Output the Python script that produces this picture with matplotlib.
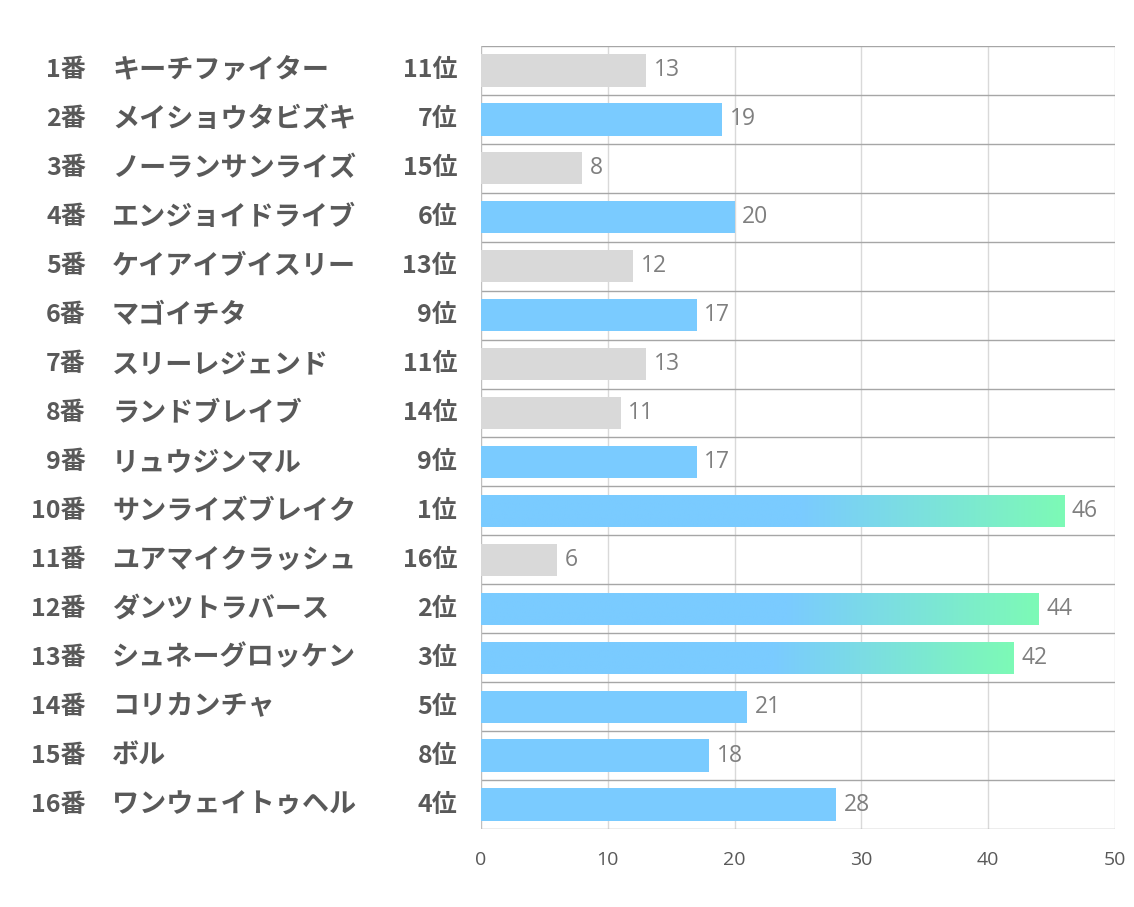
import numpy as np
import matplotlib
matplotlib.use('Agg')
import matplotlib.pyplot as plt
from matplotlib.colors import LinearSegmentedColormap
from matplotlib.transforms import blended_transform_factory

plt.rcParams['font.family'] = ['Noto Sans CJK JP', 'DejaVu Sans']

# data
numbers = ['1番', '2番', '3番', '4番', '5番', '6番', '7番', '8番',
           '9番', '10番', '11番', '12番', '13番', '14番', '15番', '16番']
names = ['キーチファイター', 'メイショウタビズキ', 'ノーランサンライズ', 'エンジョイドライブ',
         'ケイアイブイスリー', 'マゴイチタ', 'スリーレジェンド', 'ランドブレイブ',
         'リュウジンマル', 'サンライズブレイク', 'ユアマイクラッシュ', 'ダンツトラバース',
         'シュネーグロッケン', 'コリカンチャ', 'ボル', 'ワンウェイトゥヘル']
ranks = [11, 7, 15, 6, 13, 9, 11, 14, 9, 1, 16, 2, 3, 5, 8, 4]
scores = [13, 19, 8, 20, 12, 17, 13, 11, 17, 46, 6, 44, 42, 21, 18, 28]

BLUE = '#7ACBFF'
GREEN = '#7DFAB6'
GRAY = '#D9D9D9'
TEXT = '#595959'

fig = plt.figure(figsize=(11.34, 9.07), dpi=100)
ax = fig.add_axes([0.4242, 0.086, 0.5590, 0.8633])

n = len(scores)
y = np.arange(n)
bar_h = 0.66
top3 = LinearSegmentedColormap.from_list('g', [(0, BLUE), (0.55, BLUE), (1, GREEN)])
ramp = np.linspace(0, 1, 256).reshape(1, -1)

for i in range(n):
    v = scores[i]
    if ranks[i] <= 3:
        bar = ax.barh(y[i], v, height=bar_h, color='none', zorder=3)[0]
        # blue fades to green along the last part of the bar
        img = ax.imshow(ramp, cmap=top3, aspect='auto',
                        extent=[0, v, y[i] + bar_h / 2, y[i] - bar_h / 2], zorder=3)
        img.set_clip_path(bar)
    else:
        col = GRAY if ranks[i] > 9 else BLUE
        ax.barh(y[i], v, height=bar_h, color=col, zorder=3)
    ax.text(v + 0.6, y[i], str(v), va='center', ha='left', fontsize=16.5,
            color='#7F7F7F', family=['Open Sans', 'DejaVu Sans'], zorder=4)

ax.set_xlim(0, 50)
ax.set_ylim(n - 0.5, -0.5)
ax.set_xticks(range(0, 51, 10))
ax.tick_params(axis='x', length=0, pad=16, labelsize=14, labelcolor=TEXT)
ax.set_yticks([])
for lab in ax.get_xticklabels():
    lab.set_family(['Open Sans', 'DejaVu Sans'])

# vertical grid and row separators
for xv in range(10, 51, 10):
    ax.axvline(xv, color='#D9D9D9', lw=1, zorder=1)
for yv in np.arange(-0.5, n, 1.0):
    ax.axhline(yv, color='#A6A6A6', lw=1, zorder=2)
ax.axvline(0, color='#BFBFBF', lw=1, zorder=2)
for s in ax.spines.values():
    s.set_visible(False)

trans = blended_transform_factory(fig.transFigure, ax.transData)
for i in range(n):
    ax.text(0.0758, y[i], numbers[i], transform=trans, ha='right', va='center',
            fontsize=18, fontweight='bold', color=TEXT)
    ax.text(0.0988, y[i], names[i], transform=trans, ha='left', va='center',
            fontsize=19.5, fontweight='bold', color=TEXT)
    ax.text(0.403, y[i], f'{ranks[i]}位', transform=trans, ha='right', va='center',
            fontsize=18, fontweight='bold', color=TEXT)

fig.savefig('out.png', dpi=100)
